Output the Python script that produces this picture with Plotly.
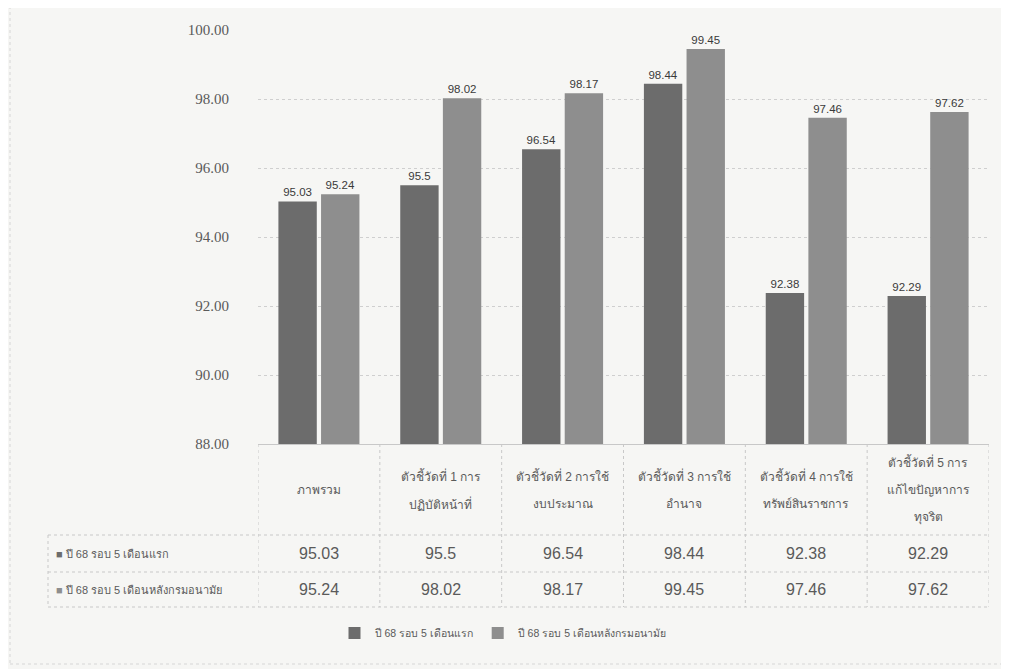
import plotly.graph_objects as go

categories = [
    "ภาพรวม",
    "ตัวชี้วัดที่ 1 การ|ปฏิบัติหน้าที่",
    "ตัวชี้วัดที่ 2 การใช้|งบประมาณ",
    "ตัวชี้วัดที่ 3 การใช้|อำนาจ",
    "ตัวชี้วัดที่ 4 การใช้|ทรัพย์สินราชการ",
    "ตัวชี้วัดที่ 5 การ|แก้ไขปัญหาการ|ทุจริต",
]
series_names = ["ปี 68 รอบ 5 เดือนแรก", "ปี 68 รอบ 5 เดือนหลังกรมอนามัย"]
first_round = [95.03, 95.5, 96.54, 98.44, 92.38, 92.29]
second_round = [95.24, 98.02, 98.17, 99.45, 97.46, 97.62]
y_ticks = [88, 90, 92, 94, 96, 98, 100]

colors = ["#6c6c6c", "#8e8e8e"]
text_gray = "#5a5a5a"
font_sans = "Liberation Sans, DejaVu Sans, Noto Sans"

OFF = 8  # page body margin
W, H = 1009 - OFF, 669 - OFF
# target page pixels: plot x 258..989, y 30..444
L = 258 - OFF
T = 30 - OFF
plot_w = 989 - 258
plot_h = 444 - 30
R = W - L - plot_w
B = H - T - plot_h

def py(p):  # page pixel y -> paper y
    return (444 - p) / plot_h

def px(p):  # page pixel x -> paper x
    return (p - 258) / plot_w

xs = list(range(len(categories)))

fig = go.Figure()
for name, vals, col in zip(series_names, [first_round, second_round], colors):
    fig.add_trace(go.Bar(
        x=xs, y=vals, name=name, marker=dict(color=col, line=dict(width=0)),
        text=[f"{v:g}" for v in vals], textposition="outside",
        textfont=dict(size=11.5, color="#3a3a3a", family=font_sans),
        cliponaxis=False,
    ))

annotations = []
header_top, header_bot = 444, 535
line_gap = 28
for i, cat in enumerate(categories):
    lines = cat.split("|")
    n = len(lines)
    mid = (header_top + header_bot) / 2
    start = mid - (n - 1) * line_gap / 2
    for k, ln in enumerate(lines):
        annotations.append(dict(
            x=i, xref="x", y=py(start + k * line_gap), yref="paper",
            text=ln, showarrow=False, xanchor="center", yanchor="middle",
            font=dict(size=12, color=text_gray, family=font_sans),
        ))

row_bounds = [535, 572, 607]
for r, (name, vals, col) in enumerate(zip(series_names, [first_round, second_round], colors)):
    ymid = (row_bounds[r] + row_bounds[r + 1]) / 2
    annotations.append(dict(
        x=px(54), xref="paper", y=py(ymid), yref="paper",
        text=f'<span style="color:{col}">■</span> {name}', showarrow=False,
        xanchor="left", yanchor="middle",
        font=dict(size=11, color=text_gray, family=font_sans),
    ))
    for i, v in enumerate(vals):
        annotations.append(dict(
            x=i, xref="x", y=py(ymid), yref="paper",
            text=f"{v:g}", showarrow=False, xanchor="center", yanchor="middle",
            font=dict(size=16, color=text_gray, family=font_sans),
        ))

shapes = []
grid_col = "#c8c8c8"
table_left = 48
for yb in row_bounds:
    shapes.append(dict(type="line", xref="paper", yref="paper",
                       x0=px(table_left), x1=1, y0=py(yb), y1=py(yb),
                       line=dict(color=grid_col, width=1, dash="dot")))
shapes.append(dict(type="line", xref="paper", yref="paper",
                   x0=px(table_left), x1=px(table_left), y0=py(535), y1=py(607),
                   line=dict(color=grid_col, width=1, dash="dot")))
for i in range(len(categories) + 1):
    xb = i - 0.5
    shapes.append(dict(type="line", xref="x", yref="paper",
                       x0=xb, x1=xb, y0=0, y1=py(607),
                       line=dict(color=grid_col, width=1, dash="dot")))
shapes.append(dict(type="rect", xref="paper", yref="paper",
                   x0=px(10), x1=px(1004), y0=py(664), y1=py(6),
                   line=dict(color="#d6d6d6", width=1, dash="dot")))

fig.update_layout(
    width=W, height=H,
    margin=dict(l=L, r=R, t=T, b=B),
    paper_bgcolor="#f6f6f4", plot_bgcolor="#f6f6f4",
    barmode="group", bargap=0.30, bargroupgap=0.1,
    showlegend=True,
    legend=dict(orientation="h", x=px(503), xanchor="center",
                y=py(633), yanchor="middle",
                font=dict(size=10.5, color=text_gray, family=font_sans),
                itemwidth=30, bgcolor="rgba(0,0,0,0)", traceorder="normal"),
    xaxis=dict(range=[-0.5, len(categories) - 0.5], showticklabels=False,
               showgrid=False, zeroline=False, showline=True,
               linecolor="#c8c8c8", ticks=""),
    yaxis=dict(range=[88, 100], tickvals=y_ticks,
               ticktext=[f"{v:.2f}" for v in y_ticks],
               tickfont=dict(size=15, color=text_gray, family="Liberation Serif, DejaVu Serif"),
               ticklabelstandoff=28,
               showgrid=True, gridcolor="#cfcfcf", griddash="dot", gridwidth=1,
               zeroline=False, showline=False),
    annotations=annotations,
    shapes=shapes,
)

fig.write_html("out.html")
